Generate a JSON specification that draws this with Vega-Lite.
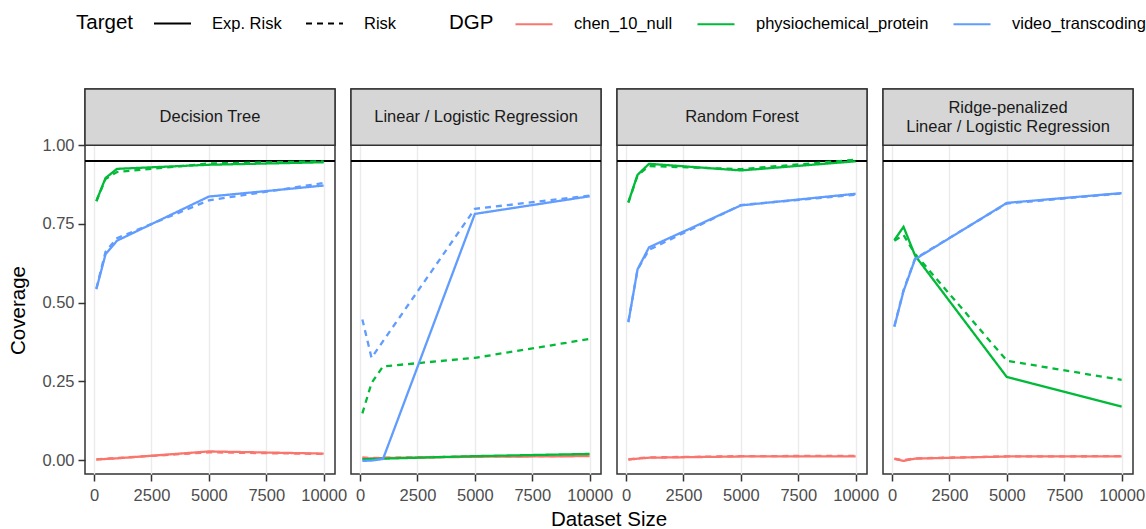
{
  "$schema": "https://vega.github.io/schema/vega-lite/v6.json",
  "padding": {"left": 8, "top": 4, "right": 5, "bottom": 2},
  "bounds": "flush",
  "data": {
    "values": [
      {"model": "Decision Tree", "dgp": "chen_10_null", "target": "Exp. Risk", "size": 100, "coverage": 0.002},
      {"model": "Decision Tree", "dgp": "chen_10_null", "target": "Exp. Risk", "size": 500, "coverage": 0.004},
      {"model": "Decision Tree", "dgp": "chen_10_null", "target": "Exp. Risk", "size": 1000, "coverage": 0.006},
      {"model": "Decision Tree", "dgp": "chen_10_null", "target": "Exp. Risk", "size": 5000, "coverage": 0.028},
      {"model": "Decision Tree", "dgp": "chen_10_null", "target": "Exp. Risk", "size": 10000, "coverage": 0.021},
      {"model": "Decision Tree", "dgp": "chen_10_null", "target": "Risk", "size": 100, "coverage": 0.003},
      {"model": "Decision Tree", "dgp": "chen_10_null", "target": "Risk", "size": 500, "coverage": 0.005},
      {"model": "Decision Tree", "dgp": "chen_10_null", "target": "Risk", "size": 1000, "coverage": 0.007},
      {"model": "Decision Tree", "dgp": "chen_10_null", "target": "Risk", "size": 5000, "coverage": 0.025},
      {"model": "Decision Tree", "dgp": "chen_10_null", "target": "Risk", "size": 10000, "coverage": 0.020},
      {"model": "Decision Tree", "dgp": "physiochemical_protein", "target": "Exp. Risk", "size": 100, "coverage": 0.823},
      {"model": "Decision Tree", "dgp": "physiochemical_protein", "target": "Exp. Risk", "size": 500, "coverage": 0.896},
      {"model": "Decision Tree", "dgp": "physiochemical_protein", "target": "Exp. Risk", "size": 1000, "coverage": 0.925},
      {"model": "Decision Tree", "dgp": "physiochemical_protein", "target": "Exp. Risk", "size": 5000, "coverage": 0.938},
      {"model": "Decision Tree", "dgp": "physiochemical_protein", "target": "Exp. Risk", "size": 10000, "coverage": 0.946},
      {"model": "Decision Tree", "dgp": "physiochemical_protein", "target": "Risk", "size": 100, "coverage": 0.822},
      {"model": "Decision Tree", "dgp": "physiochemical_protein", "target": "Risk", "size": 500, "coverage": 0.893},
      {"model": "Decision Tree", "dgp": "physiochemical_protein", "target": "Risk", "size": 1000, "coverage": 0.915},
      {"model": "Decision Tree", "dgp": "physiochemical_protein", "target": "Risk", "size": 5000, "coverage": 0.942},
      {"model": "Decision Tree", "dgp": "physiochemical_protein", "target": "Risk", "size": 10000, "coverage": 0.949},
      {"model": "Decision Tree", "dgp": "video_transcoding", "target": "Exp. Risk", "size": 100, "coverage": 0.543},
      {"model": "Decision Tree", "dgp": "video_transcoding", "target": "Exp. Risk", "size": 500, "coverage": 0.654},
      {"model": "Decision Tree", "dgp": "video_transcoding", "target": "Exp. Risk", "size": 1000, "coverage": 0.697},
      {"model": "Decision Tree", "dgp": "video_transcoding", "target": "Exp. Risk", "size": 5000, "coverage": 0.837},
      {"model": "Decision Tree", "dgp": "video_transcoding", "target": "Exp. Risk", "size": 10000, "coverage": 0.872},
      {"model": "Decision Tree", "dgp": "video_transcoding", "target": "Risk", "size": 100, "coverage": 0.545},
      {"model": "Decision Tree", "dgp": "video_transcoding", "target": "Risk", "size": 500, "coverage": 0.662},
      {"model": "Decision Tree", "dgp": "video_transcoding", "target": "Risk", "size": 1000, "coverage": 0.705},
      {"model": "Decision Tree", "dgp": "video_transcoding", "target": "Risk", "size": 5000, "coverage": 0.825},
      {"model": "Decision Tree", "dgp": "video_transcoding", "target": "Risk", "size": 10000, "coverage": 0.880},

      {"model": "Linear / Logistic Regression", "dgp": "chen_10_null", "target": "Exp. Risk", "size": 100, "coverage": 0.006},
      {"model": "Linear / Logistic Regression", "dgp": "chen_10_null", "target": "Exp. Risk", "size": 500, "coverage": 0.006},
      {"model": "Linear / Logistic Regression", "dgp": "chen_10_null", "target": "Exp. Risk", "size": 1000, "coverage": 0.007},
      {"model": "Linear / Logistic Regression", "dgp": "chen_10_null", "target": "Exp. Risk", "size": 5000, "coverage": 0.011},
      {"model": "Linear / Logistic Regression", "dgp": "chen_10_null", "target": "Exp. Risk", "size": 10000, "coverage": 0.013},
      {"model": "Linear / Logistic Regression", "dgp": "chen_10_null", "target": "Risk", "size": 100, "coverage": 0.009},
      {"model": "Linear / Logistic Regression", "dgp": "chen_10_null", "target": "Risk", "size": 500, "coverage": 0.007},
      {"model": "Linear / Logistic Regression", "dgp": "chen_10_null", "target": "Risk", "size": 1000, "coverage": 0.008},
      {"model": "Linear / Logistic Regression", "dgp": "chen_10_null", "target": "Risk", "size": 5000, "coverage": 0.012},
      {"model": "Linear / Logistic Regression", "dgp": "chen_10_null", "target": "Risk", "size": 10000, "coverage": 0.014},
      {"model": "Linear / Logistic Regression", "dgp": "physiochemical_protein", "target": "Exp. Risk", "size": 100, "coverage": 0.003},
      {"model": "Linear / Logistic Regression", "dgp": "physiochemical_protein", "target": "Exp. Risk", "size": 500, "coverage": 0.004},
      {"model": "Linear / Logistic Regression", "dgp": "physiochemical_protein", "target": "Exp. Risk", "size": 1000, "coverage": 0.005},
      {"model": "Linear / Logistic Regression", "dgp": "physiochemical_protein", "target": "Exp. Risk", "size": 5000, "coverage": 0.013},
      {"model": "Linear / Logistic Regression", "dgp": "physiochemical_protein", "target": "Exp. Risk", "size": 10000, "coverage": 0.020},
      {"model": "Linear / Logistic Regression", "dgp": "physiochemical_protein", "target": "Risk", "size": 100, "coverage": 0.149},
      {"model": "Linear / Logistic Regression", "dgp": "physiochemical_protein", "target": "Risk", "size": 500, "coverage": 0.245},
      {"model": "Linear / Logistic Regression", "dgp": "physiochemical_protein", "target": "Risk", "size": 1000, "coverage": 0.298},
      {"model": "Linear / Logistic Regression", "dgp": "physiochemical_protein", "target": "Risk", "size": 5000, "coverage": 0.325},
      {"model": "Linear / Logistic Regression", "dgp": "physiochemical_protein", "target": "Risk", "size": 10000, "coverage": 0.385},
      {"model": "Linear / Logistic Regression", "dgp": "video_transcoding", "target": "Exp. Risk", "size": 100, "coverage": -0.002},
      {"model": "Linear / Logistic Regression", "dgp": "video_transcoding", "target": "Exp. Risk", "size": 500, "coverage": -0.001},
      {"model": "Linear / Logistic Regression", "dgp": "video_transcoding", "target": "Exp. Risk", "size": 1000, "coverage": 0.004},
      {"model": "Linear / Logistic Regression", "dgp": "video_transcoding", "target": "Exp. Risk", "size": 5000, "coverage": 0.782},
      {"model": "Linear / Logistic Regression", "dgp": "video_transcoding", "target": "Exp. Risk", "size": 10000, "coverage": 0.838},
      {"model": "Linear / Logistic Regression", "dgp": "video_transcoding", "target": "Risk", "size": 100, "coverage": 0.447},
      {"model": "Linear / Logistic Regression", "dgp": "video_transcoding", "target": "Risk", "size": 500, "coverage": 0.325},
      {"model": "Linear / Logistic Regression", "dgp": "video_transcoding", "target": "Risk", "size": 1000, "coverage": 0.378},
      {"model": "Linear / Logistic Regression", "dgp": "video_transcoding", "target": "Risk", "size": 5000, "coverage": 0.798},
      {"model": "Linear / Logistic Regression", "dgp": "video_transcoding", "target": "Risk", "size": 10000, "coverage": 0.840},

      {"model": "Random Forest", "dgp": "chen_10_null", "target": "Exp. Risk", "size": 100, "coverage": 0.002},
      {"model": "Random Forest", "dgp": "chen_10_null", "target": "Exp. Risk", "size": 500, "coverage": 0.005},
      {"model": "Random Forest", "dgp": "chen_10_null", "target": "Exp. Risk", "size": 1000, "coverage": 0.008},
      {"model": "Random Forest", "dgp": "chen_10_null", "target": "Exp. Risk", "size": 5000, "coverage": 0.012},
      {"model": "Random Forest", "dgp": "chen_10_null", "target": "Exp. Risk", "size": 10000, "coverage": 0.012},
      {"model": "Random Forest", "dgp": "chen_10_null", "target": "Risk", "size": 100, "coverage": 0.003},
      {"model": "Random Forest", "dgp": "chen_10_null", "target": "Risk", "size": 500, "coverage": 0.006},
      {"model": "Random Forest", "dgp": "chen_10_null", "target": "Risk", "size": 1000, "coverage": 0.009},
      {"model": "Random Forest", "dgp": "chen_10_null", "target": "Risk", "size": 5000, "coverage": 0.013},
      {"model": "Random Forest", "dgp": "chen_10_null", "target": "Risk", "size": 10000, "coverage": 0.014},
      {"model": "Random Forest", "dgp": "physiochemical_protein", "target": "Exp. Risk", "size": 100, "coverage": 0.819},
      {"model": "Random Forest", "dgp": "physiochemical_protein", "target": "Exp. Risk", "size": 500, "coverage": 0.906},
      {"model": "Random Forest", "dgp": "physiochemical_protein", "target": "Exp. Risk", "size": 1000, "coverage": 0.941},
      {"model": "Random Forest", "dgp": "physiochemical_protein", "target": "Exp. Risk", "size": 5000, "coverage": 0.920},
      {"model": "Random Forest", "dgp": "physiochemical_protein", "target": "Exp. Risk", "size": 10000, "coverage": 0.949},
      {"model": "Random Forest", "dgp": "physiochemical_protein", "target": "Risk", "size": 100, "coverage": 0.818},
      {"model": "Random Forest", "dgp": "physiochemical_protein", "target": "Risk", "size": 500, "coverage": 0.904},
      {"model": "Random Forest", "dgp": "physiochemical_protein", "target": "Risk", "size": 1000, "coverage": 0.934},
      {"model": "Random Forest", "dgp": "physiochemical_protein", "target": "Risk", "size": 5000, "coverage": 0.924},
      {"model": "Random Forest", "dgp": "physiochemical_protein", "target": "Risk", "size": 10000, "coverage": 0.954},
      {"model": "Random Forest", "dgp": "video_transcoding", "target": "Exp. Risk", "size": 100, "coverage": 0.438},
      {"model": "Random Forest", "dgp": "video_transcoding", "target": "Exp. Risk", "size": 500, "coverage": 0.606},
      {"model": "Random Forest", "dgp": "video_transcoding", "target": "Exp. Risk", "size": 1000, "coverage": 0.676},
      {"model": "Random Forest", "dgp": "video_transcoding", "target": "Exp. Risk", "size": 5000, "coverage": 0.809},
      {"model": "Random Forest", "dgp": "video_transcoding", "target": "Exp. Risk", "size": 10000, "coverage": 0.846},
      {"model": "Random Forest", "dgp": "video_transcoding", "target": "Risk", "size": 100, "coverage": 0.440},
      {"model": "Random Forest", "dgp": "video_transcoding", "target": "Risk", "size": 500, "coverage": 0.605},
      {"model": "Random Forest", "dgp": "video_transcoding", "target": "Risk", "size": 1000, "coverage": 0.668},
      {"model": "Random Forest", "dgp": "video_transcoding", "target": "Risk", "size": 5000, "coverage": 0.810},
      {"model": "Random Forest", "dgp": "video_transcoding", "target": "Risk", "size": 10000, "coverage": 0.843},

      {"model": "Ridge-penalized\nLinear / Logistic Regression", "dgp": "chen_10_null", "target": "Exp. Risk", "size": 100, "coverage": 0.004},
      {"model": "Ridge-penalized\nLinear / Logistic Regression", "dgp": "chen_10_null", "target": "Exp. Risk", "size": 500, "coverage": -0.002},
      {"model": "Ridge-penalized\nLinear / Logistic Regression", "dgp": "chen_10_null", "target": "Exp. Risk", "size": 1000, "coverage": 0.005},
      {"model": "Ridge-penalized\nLinear / Logistic Regression", "dgp": "chen_10_null", "target": "Exp. Risk", "size": 5000, "coverage": 0.012},
      {"model": "Ridge-penalized\nLinear / Logistic Regression", "dgp": "chen_10_null", "target": "Exp. Risk", "size": 10000, "coverage": 0.012},
      {"model": "Ridge-penalized\nLinear / Logistic Regression", "dgp": "chen_10_null", "target": "Risk", "size": 100, "coverage": 0.005},
      {"model": "Ridge-penalized\nLinear / Logistic Regression", "dgp": "chen_10_null", "target": "Risk", "size": 500, "coverage": 0.000},
      {"model": "Ridge-penalized\nLinear / Logistic Regression", "dgp": "chen_10_null", "target": "Risk", "size": 1000, "coverage": 0.006},
      {"model": "Ridge-penalized\nLinear / Logistic Regression", "dgp": "chen_10_null", "target": "Risk", "size": 5000, "coverage": 0.012},
      {"model": "Ridge-penalized\nLinear / Logistic Regression", "dgp": "chen_10_null", "target": "Risk", "size": 10000, "coverage": 0.013},
      {"model": "Ridge-penalized\nLinear / Logistic Regression", "dgp": "physiochemical_protein", "target": "Exp. Risk", "size": 100, "coverage": 0.699},
      {"model": "Ridge-penalized\nLinear / Logistic Regression", "dgp": "physiochemical_protein", "target": "Exp. Risk", "size": 500, "coverage": 0.741},
      {"model": "Ridge-penalized\nLinear / Logistic Regression", "dgp": "physiochemical_protein", "target": "Exp. Risk", "size": 1000, "coverage": 0.650},
      {"model": "Ridge-penalized\nLinear / Logistic Regression", "dgp": "physiochemical_protein", "target": "Exp. Risk", "size": 5000, "coverage": 0.264},
      {"model": "Ridge-penalized\nLinear / Logistic Regression", "dgp": "physiochemical_protein", "target": "Exp. Risk", "size": 10000, "coverage": 0.170},
      {"model": "Ridge-penalized\nLinear / Logistic Regression", "dgp": "physiochemical_protein", "target": "Risk", "size": 100, "coverage": 0.697},
      {"model": "Ridge-penalized\nLinear / Logistic Regression", "dgp": "physiochemical_protein", "target": "Risk", "size": 500, "coverage": 0.715},
      {"model": "Ridge-penalized\nLinear / Logistic Regression", "dgp": "physiochemical_protein", "target": "Risk", "size": 1000, "coverage": 0.655},
      {"model": "Ridge-penalized\nLinear / Logistic Regression", "dgp": "physiochemical_protein", "target": "Risk", "size": 5000, "coverage": 0.316},
      {"model": "Ridge-penalized\nLinear / Logistic Regression", "dgp": "physiochemical_protein", "target": "Risk", "size": 10000, "coverage": 0.255},
      {"model": "Ridge-penalized\nLinear / Logistic Regression", "dgp": "video_transcoding", "target": "Exp. Risk", "size": 100, "coverage": 0.424},
      {"model": "Ridge-penalized\nLinear / Logistic Regression", "dgp": "video_transcoding", "target": "Exp. Risk", "size": 500, "coverage": 0.537},
      {"model": "Ridge-penalized\nLinear / Logistic Regression", "dgp": "video_transcoding", "target": "Exp. Risk", "size": 1000, "coverage": 0.638},
      {"model": "Ridge-penalized\nLinear / Logistic Regression", "dgp": "video_transcoding", "target": "Exp. Risk", "size": 5000, "coverage": 0.817},
      {"model": "Ridge-penalized\nLinear / Logistic Regression", "dgp": "video_transcoding", "target": "Exp. Risk", "size": 10000, "coverage": 0.848},
      {"model": "Ridge-penalized\nLinear / Logistic Regression", "dgp": "video_transcoding", "target": "Risk", "size": 100, "coverage": 0.425},
      {"model": "Ridge-penalized\nLinear / Logistic Regression", "dgp": "video_transcoding", "target": "Risk", "size": 500, "coverage": 0.540},
      {"model": "Ridge-penalized\nLinear / Logistic Regression", "dgp": "video_transcoding", "target": "Risk", "size": 1000, "coverage": 0.640},
      {"model": "Ridge-penalized\nLinear / Logistic Regression", "dgp": "video_transcoding", "target": "Risk", "size": 5000, "coverage": 0.815},
      {"model": "Ridge-penalized\nLinear / Logistic Regression", "dgp": "video_transcoding", "target": "Risk", "size": 10000, "coverage": 0.847}
    ]
  },
  "facet": {
    "column": {
      "field": "model",
      "type": "nominal",
      "title": "Dataset Size",
      "sort": ["Decision Tree", "Linear / Logistic Regression", "Random Forest", "Ridge-penalized\nLinear / Logistic Regression"],
      "header": {
        "labels": false,
        "titleOrient": "bottom",
        "titleFontSize": 20.5,
        "titleFontWeight": "normal",
        "titleColor": "#000000",
        "titlePadding": -4
      }
    }
  },
  "spacing": 16,
  "spec": {
    "width": 250,
    "height": 385,
    "layer": [
      {
        "transform": [{"aggregate": [{"op": "count", "as": "n"}], "groupby": ["model"]}],
        "mark": {"type": "rule", "color": "black", "strokeWidth": 2},
        "encoding": {"y": {"datum": 0.95}}
      },
      {
        "mark": {"type": "line", "strokeWidth": 2.3, "clip": true},
        "encoding": {
          "x": {
            "field": "size",
            "type": "quantitative",
            "title": null,
            "scale": {"domain": [-395, 10495], "nice": false, "zero": false},
            "axis": {
              "values": [0, 1250, 2500, 3750, 5000, 6250, 7500, 8750, 10000],
              "format": "d",
              "labelPadding": 6,
              "labelExpr": "datum.value % 2500 === 0 ? datum.label : ''",
              "tickOpacity": {"condition": {"test": "datum.value % 2500 === 0", "value": 1}, "value": 0},
              "gridWidth": {"condition": {"test": "datum.value % 2500 === 0", "value": 1.4}, "value": 0.7}
            }
          },
          "y": {
            "field": "coverage",
            "type": "quantitative",
            "title": "Coverage",
            "scale": {"domain": [-0.0437, 1.1785], "nice": false, "zero": false},
            "axis": {
              "values": [0, 0.125, 0.25, 0.375, 0.5, 0.625, 0.75, 0.875, 1],
              "format": ".2f",
              "labelExpr": "datum.value * 4 % 1 === 0 ? datum.label : ''",
              "tickOpacity": {"condition": {"test": "datum.value * 4 % 1 === 0", "value": 1}, "value": 0},
              "gridWidth": {"condition": {"test": "datum.value * 4 % 1 === 0", "value": 1.4}, "value": 0.7},
              "titleX": -67,
              "titleY": 221,
              "titleBaseline": "middle",
              "titleAlign": "center"
            }
          },
          "color": {
            "field": "dgp",
            "type": "nominal",
            "title": "DGP",
            "scale": {
              "domain": ["chen_10_null", "physiochemical_protein", "video_transcoding"],
              "range": ["#F8766D", "#00BA38", "#619CFF"]
            },
            "legend": {"orient": "none", "legendX": 364, "legendY": -85}
          },
          "strokeDash": {
            "field": "target",
            "type": "nominal",
            "title": "Target",
            "scale": {"domain": ["Exp. Risk", "Risk"], "range": [[1, 0], [6, 5]]},
            "legend": {"orient": "none", "legendX": -9, "legendY": -85, "symbolStrokeColor": "#000000", "symbolStrokeWidth": 1.8}
          },
          "order": {"field": "size", "type": "quantitative"}
        }
      },
      {
        "transform": [{"aggregate": [{"op": "count", "as": "n"}], "groupby": ["model"]}],
        "mark": {"type": "rect", "fill": "#d6d6d6", "stroke": "#333333", "strokeWidth": 1.5},
        "encoding": {"y": {"datum": 1.0}, "y2": {"datum": 1.1785}}
      },
      {
        "transform": [
          {"aggregate": [{"op": "count", "as": "n"}], "groupby": ["model"]},
          {"filter": "indexof(datum.model, 'Ridge') < 0"}
        ],
        "mark": {"type": "text", "fontSize": 16.5, "color": "#1a1a1a", "baseline": "middle", "align": "center"},
        "encoding": {"x": {"datum": 5050}, "y": {"datum": 1.089}, "text": {"field": "model"}}
      },
      {
        "transform": [
          {"aggregate": [{"op": "count", "as": "n"}], "groupby": ["model"]},
          {"filter": "indexof(datum.model, 'Ridge') >= 0"}
        ],
        "mark": {"type": "text", "fontSize": 16.5, "color": "#1a1a1a", "baseline": "middle", "align": "center", "lineBreak": "\n", "lineHeight": 19},
        "encoding": {"x": {"datum": 5050}, "y": {"datum": 1.117}, "text": {"field": "model"}}
      }
    ]
  },
  "config": {
    "font": "Liberation Sans",
    "view": {"stroke": "#333333", "strokeWidth": 1.5},
    "axis": {
      "domain": false,
      "gridColor": "#ebebeb",
      "tickColor": "#333333",
      "tickWidth": 1.5,
      "tickSize": 7,
      "labelFontSize": 16.5,
      "labelColor": "#4d4d4d",
      "labelPadding": 4,
      "labelFlush": false,
      "labelOverlap": false,
      "titleFontSize": 20.5,
      "titleFontWeight": "normal",
      "titleColor": "#000000"
    },
    "legend": {
      "direction": "horizontal",
      "titleOrient": "left",
      "titleAnchor": "middle",
      "titleBaseline": "line-top",
      "titleLineHeight": 10,
      "titlePadding": 20,
      "titleFontSize": 20.5,
      "titleFontWeight": "normal",
      "titleColor": "#000000",
      "labelFontSize": 16.5,
      "labelColor": "#000000",
      "labelLimit": 400,
      "labelOffset": 20,
      "symbolType": "stroke",
      "symbolSize": 1369,
      "symbolStrokeWidth": 2.2,
      "columnPadding": 20
    }
  }
}
